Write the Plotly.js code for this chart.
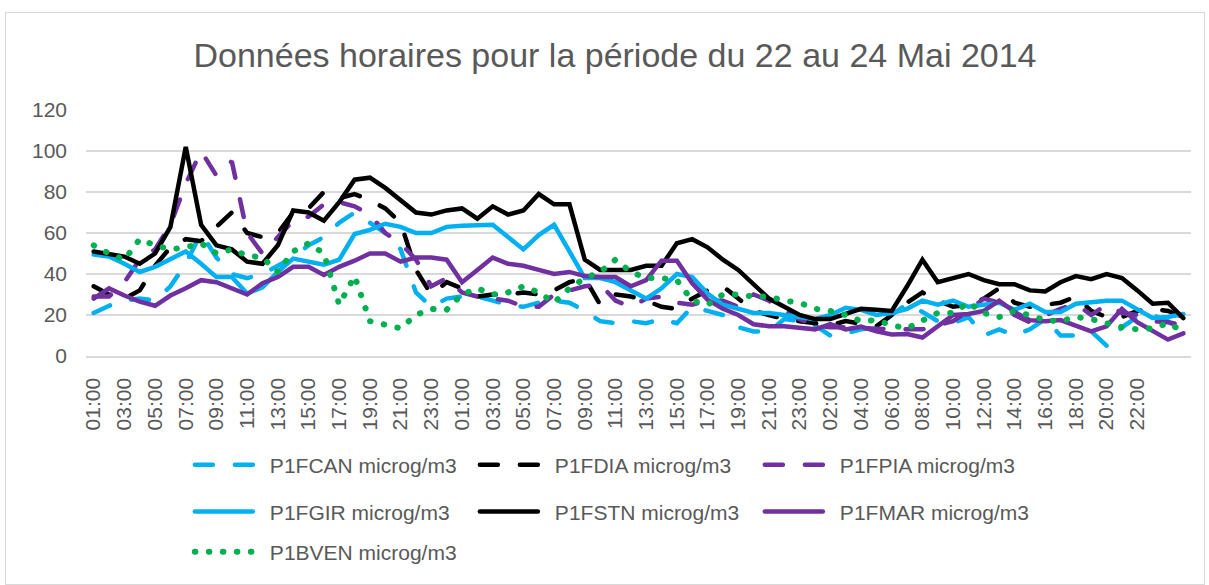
<!DOCTYPE html>
<html>
<head>
<meta charset="utf-8">
<script src="https://cdn.plot.ly/plotly-3.0.1.min.js"></script>
<style>
html, body { margin: 0; padding: 0; background: #ffffff; }
#chart { width: 1209px; height: 585px; }
#frame { position: absolute; left: 5px; top: 12px; width: 1198px; height: 571px; border: 1px solid #d9d9d9; pointer-events: none; }
.scatterlayer path.js-line, .infolayer .legendlines path.js-line { stroke-linecap: round; }
.infolayer .legendlines path.js-line { d: path("M5,0h58"); }
</style>
</head>
<body>
<div id="chart"></div>
<div id="frame"></div>
<script>
// Tick labels shown on the category axis (every second hour)
const tickLabels = ["01:00","03:00","05:00","07:00","09:00","11:00","13:00","15:00","17:00","19:00","21:00","23:00",
  "01:00","03:00","05:00","07:00","09:00","11:00","13:00","15:00","17:00","19:00","21:00","23:00",
  "02:00","04:00","06:00","08:00","10:00","12:00","14:00","16:00","18:00","20:00","22:00"];

const seriesNames = ["P1FCAN microg/m3","P1FDIA microg/m3","P1FPIA microg/m3","P1FGIR microg/m3","P1FSTN microg/m3","P1FMAR microg/m3","P1BVEN microg/m3"];

const P1FCAN = [21,24.5,27,28,27,34,45,60,48,40,38,40,44,48,54,58,65,70,65,60,52,31,24,28,
  29,29,27,25,24,26,27,26,22,17,16,17,16,18,16,24,22,20,14,12,12,18,17,15,
  10,11,13,14,20,25.5,21.5,17,16,19,10,13,10,13,18,10,10,12,5,14,19,20,17,12];
const P1FDIA = [34,30,28,32,44,53,57,56,63,70,60,58,60,70,72,80,77,79,76,72,65,42,30,36,
  33,29,30,30,31,30,32,36,38,25,30,29,27,24,23,28,32,34,28,22,20,18,17,16,
  15,17,16,14.5,20,26,31,27,24,25,28,33,26,24,25,26,29,22,19,19,22,23,22,19];
const P1FPIA = [29,29,36,47,52,64,84,100,88,95,60,50,58,66,68,74,75,73,69,60,55,47,34,38,
  31,29,28,27,24,24,30,32,34,35,27,24,28,29,26,25,27,27,24,30,27,22,18,15,
  14,14,13.5,13.5,13,13,13,15,17,22,28,26,20,16.5,20,23,25.5,20,25,21,20,17,16.5,15];
const P1FGIR = [49.5,48.5,45,41,43.5,47.5,51,45,38.5,38.5,30.5,33.5,41,47.5,46,44.5,47,59.5,61.5,64.5,63,60,60,63,
  63.5,64,64,58,52,59,64,51,38,38,36,32,28,33,40,38.5,30.5,25,23,21,21,20,18.5,18,
  20,23.5,22.5,20,21,23,27,25,27,24,25,26,22.5,25.5,21.5,21.5,25.5,26.5,27,27,22.5,18.5,19,20.5];
const P1FSTN = [51,50,48.5,45,50,63,102,64,54,52,46,45,54,71,70,66,75,86,87,82,76,70,69,71,
  72,67,73,69,71,79,74,74,47,42,42,42,44,44,55,57,53,47,42,35,28,24,20,18,
  18,20.5,23,22.5,22,34,47,36,38,40,37,35,35,32,31.5,36,39,37.5,40,38,32,25.5,26,18.5];
const P1FMAR = [28,33,29.5,26.5,24.5,29.5,33,37,36,33,30,35.5,38.5,43.5,43.5,39.5,43.5,46.5,50,50,46,48,48,47,
  36,42,48,45,44,42,40,41,39,38.5,38.5,34,37,46.5,46.5,35.5,27.5,23,20,15.5,14.5,14.5,13.5,13,
  15.5,13,14.3,12,10.5,10.7,9,14.5,20,20.5,22,27,21.5,17.5,17,17.5,15,12,14.5,23,16.5,12.5,8,11];
const P1BVEN = [54,50,47,57,54,52,53,55,50,52,49,48,41,51,55,50,25,39,17,15,13.5,20,23,22.5,
  30,33,30,31,34,31,26,33,38,41,47,41,38,38,37,27,25,30,30,29,29,27,26,23,
  22,20,17,17.5,15,13.5,17,21,21,26,21,19,22,20,17.5,17,19,18,16,14,13,13.5,16,12];

const seriesValues = [P1FCAN, P1FDIA, P1FPIA, P1FGIR, P1FSTN, P1FMAR, P1BVEN];
const seriesColors = ["#00B0F0","#000000","#7030A0","#00B0F0","#000000","#7030A0","#00B050"];
const seriesDash = ["18px,22px","18px,22px","18px,22px","solid","solid","solid","0.5px,13.5px"];
const seriesWidth = [4.5,4.5,4.5,4.5,4.5,4.5,6];
const seriesLegend = ["legend","legend","legend","legend2","legend2","legend2","legend3"];

const FONT = "Liberation Sans, Arial, sans-serif";
const GREY = "#595959";

const traces = seriesValues.map((vals, s) => ({
  type: "scatter",
  mode: "lines",
  name: seriesNames[s],
  x: vals.map((_, i) => i),
  y: vals,
  line: { color: seriesColors[s], width: seriesWidth[s], dash: seriesDash[s] },
  legend: seriesLegend[s],
  hoverinfo: "skip"
}));

function legendAt(y) {
  return {
    orientation: "h",
    x: 0.094, xanchor: "left",
    y: y, yanchor: "middle",
    entrywidth: 200, entrywidthmode: "pixels",
    itemwidth: 70,
    bgcolor: "rgba(0,0,0,0)",
    font: { family: FONT, size: 21, color: GREY },
    traceorder: "normal"
  };
}

const layout = {
  width: 1209, height: 585,
  margin: { l: 86, r: 18, t: 110, b: 229, autoexpand: false },
  paper_bgcolor: "#ffffff", plot_bgcolor: "#ffffff",
  title: {
    text: "Données horaires pour la période du 22 au 24 Mai 2014",
    font: { family: FONT, size: 34, color: GREY },
    x: 0.5087, xref: "container", xanchor: "center",
    y: 0.906, yref: "container", yanchor: "middle"
  },
  xaxis: {
    range: [-0.5, 71.5],
    tickmode: "array",
    tickvals: tickLabels.map((_, k) => 2 * k),
    ticktext: tickLabels,
    tickangle: -90,
    ticks: "",
    showgrid: false,
    zeroline: false,
    showline: true, linecolor: "#d9d9d9", linewidth: 1.5,
    tickfont: { family: FONT, size: 21, color: GREY },
    ticklabelstandoff: 12,
    fixedrange: true
  },
  yaxis: {
    range: [0, 120],
    tick0: 0, dtick: 20,
    ticks: "",
    showgrid: true, gridcolor: "#d9d9d9", gridwidth: 1.5,
    zeroline: false, showline: false,
    tickfont: { family: FONT, size: 21, color: GREY },
    ticklabelstandoff: 18,
    fixedrange: true
  },
  legend: legendAt(-0.443),
  legend2: legendAt(-0.634),
  legend3: legendAt(-0.797),
  showlegend: true
};

Plotly.newPlot("chart", traces, layout, { displayModeBar: false, staticPlot: true });
</script>
</body>
</html>
